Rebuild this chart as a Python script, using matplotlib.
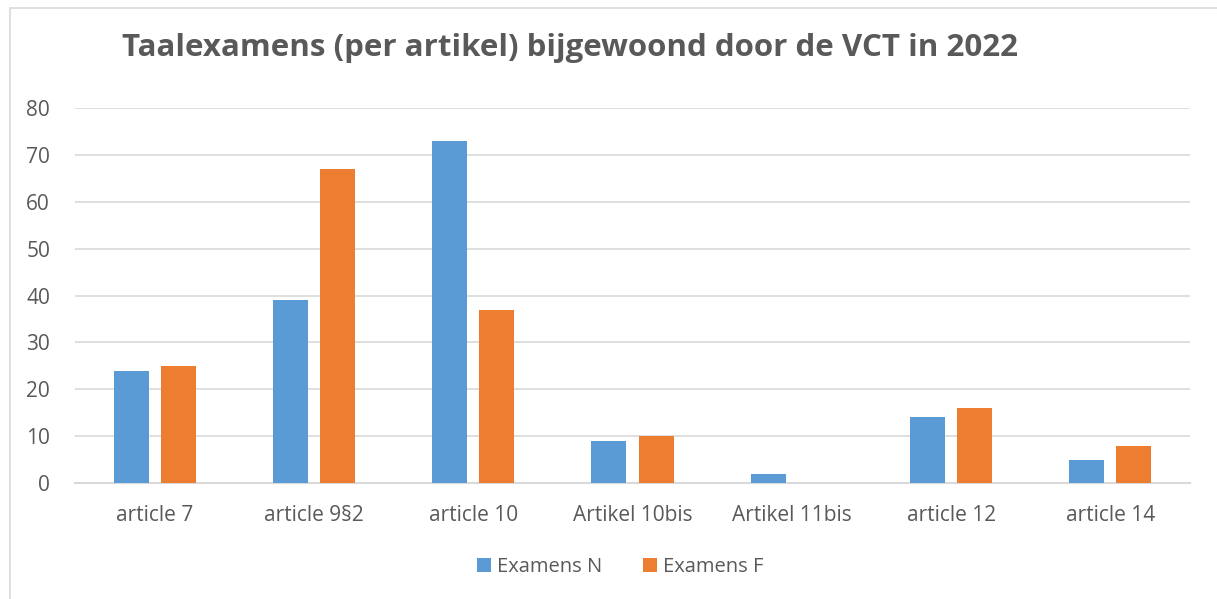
import matplotlib.pyplot as plt
from matplotlib.patches import Rectangle
import numpy as np

categories = ['article 7', 'article 9§2', 'article 10', 'Artikel 10bis',
              'Artikel 11bis', 'article 12', 'article 14']
examens_n = [24, 39, 73, 9, 2, 14, 5]
examens_f = [25, 67, 37, 10, 0, 16, 8]

plt.rcParams['font.family'] = ['Open Sans', 'DejaVu Sans']
grey = '#595959'

fig = plt.figure(figsize=(12.17, 5.99), dpi=100)
# outer chart frame
fig.patches.append(Rectangle((10 / 1217, -0.1), 1.2, (599 - 8) / 599 + 0.1,
                             transform=fig.transFigure, fill=False,
                             edgecolor='#d9d9d9', linewidth=1.2))

ax = fig.add_axes([75 / 1217, (599 - 483) / 599, (1190 - 75) / 1217, 375 / 599])

x = np.arange(len(categories))
w = 0.22
ax.bar(x - 0.148, examens_n, w, color='#5b9bd5', label='Examens N', zorder=3)
ax.bar(x + 0.148, examens_f, w, color='#ed7d31', label='Examens F', zorder=3)

ax.set_xlim(-0.5, len(categories) - 0.5)
ax.set_ylim(0, 80)
ax.set_yticks(range(0, 81, 10))
ax.set_xticks(x)
ax.set_xticklabels(categories)
ax.grid(axis='y', color='#d9d9d9', linewidth=1.2, zorder=0)
for s in ['top', 'right', 'left']:
    ax.spines[s].set_visible(False)
ax.spines['bottom'].set_color('#d9d9d9')
ax.spines['bottom'].set_linewidth(1.5)
ax.tick_params(axis='both', length=0, labelsize=15, colors=grey)
ax.tick_params(axis='x', pad=16)
ax.tick_params(axis='y', pad=18)

fig.text(570 / 1217, 1 - 48 / 599, 'Taalexamens (per artikel) bijgewoond door de VCT in 2022',
         ha='center', va='center', fontsize=22.5, fontweight='bold', color=grey)

fig.legend(loc='center', bbox_to_anchor=(620 / 1217, 1 - 567 / 599), ncol=2,
           frameon=False, fontsize=14.5, labelcolor=grey, handlelength=0.7,
           handleheight=0.7, handletextpad=0.3, columnspacing=2.0)

fig.savefig('out.png', dpi=100)
